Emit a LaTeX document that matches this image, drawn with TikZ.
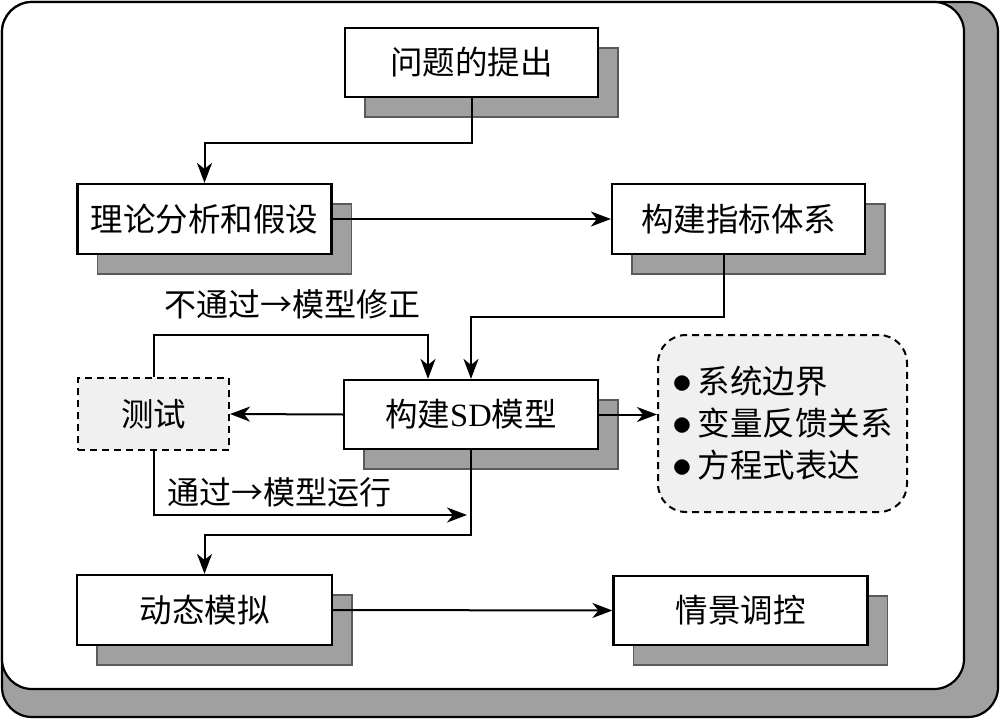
\documentclass[tikz,border=0pt]{standalone}
\usepackage{fontspec}
\setmainfont{Noto Sans CJK SC}
\newfontfamily\latin{Liberation Serif}
\usetikzlibrary{arrows.meta,shadows}
\definecolor{shadowgray}{RGB}{160,160,160}
\definecolor{shadowline}{RGB}{90,90,90}
\tikzset{
  stepbox/.style={draw,line width=2.2pt,fill=white,minimum width=253pt,minimum height=69pt,
    inner sep=0pt,font=\fontsize{32.5}{38}\selectfont,
    drop shadow={opacity=1,shadow xshift=20pt,shadow yshift=-20pt,fill=shadowgray,draw=shadowline,line width=1.4pt}},
  testbox/.style={draw,dashed,dash pattern=on 7pt off 5pt,line width=2pt,fill=gray!12,
    minimum width=151pt,minimum height=72pt,inner sep=0pt,font=\fontsize{32.5}{38}\selectfont},
  arr/.style={-{Stealth[length=20pt,width=15pt,inset=6pt]},line width=2pt},
  lbl/.style={font=\fontsize{32}{38}\selectfont,inner sep=0pt}
}
\newcommand\dotitem{\scalebox{1.6}{$\bullet$}\hspace{6pt}}
\begin{document}
\begin{tikzpicture}[x=1pt,y=-1pt]
\useasboundingbox (0,0) rectangle (1000,719);
% frame
\draw[line width=2.2pt,fill=shadowgray,rounded corners=30pt](2,2) rectangle (998,717);
\draw[line width=2.2pt,fill=white,rounded corners=30pt](2,2) rectangle (964,689);
% boxes
\node[stepbox](q) at (471.5,62.5){问题的提出};
\node[stepbox,minimum width=254pt,minimum height=70pt](lun) at (204.5,219){理论分析和假设};
\node[stepbox,minimum height=70pt](zhi) at (738.5,219){构建指标体系};
\node[stepbox,minimum width=254pt](sd) at (471,414.5){构建{\latin SD}模型};
\node[testbox](ce) at (153.5,414){测试};
\node[stepbox,minimum width=255pt,minimum height=70pt](dt) at (204.5,610){动态模拟};
\node[stepbox,minimum width=254pt](qj) at (740.5,610.5){情景调控};
\node[draw,dashed,dash pattern=on 7pt off 5pt,line width=2pt,fill=gray!12,rounded corners=28pt,
  minimum width=249pt,minimum height=177pt,align=left,inner sep=0pt,
  font=\fontsize{32.5}{42}\selectfont](feat) at (782.5,423.5)
  {\dotitem 系统边界\\\dotitem 变量反馈关系\\\dotitem 方程式表达};
\coordinate(pass) at (467,515);
% labels
\node[lbl](fail) at (292,304){不通过→模型修正};
\node[lbl](ok) at (279,492){通过→模型运行};
% connectors
\draw[arr](q.south)--++(0,45)-|(lun.north);
\draw[arr](lun.east)--(zhi.west);
\draw[arr]([xshift=-14.5pt]zhi.south)--++(0,62)-|(sd.north);
\draw[arr](ce.north)--++(0,-42)-|([xshift=-43pt]sd.north);
\draw[arr](sd.west)--(ce.east);
\draw[arr](sd.east)--(sd.east-|feat.west);
\draw[arr](ce.south)|-(pass);
\draw[arr](sd.south)--++(0,84.5)-|(dt.north);
\draw[arr](dt.east)--(qj.west);
\end{tikzpicture}
\end{document}
